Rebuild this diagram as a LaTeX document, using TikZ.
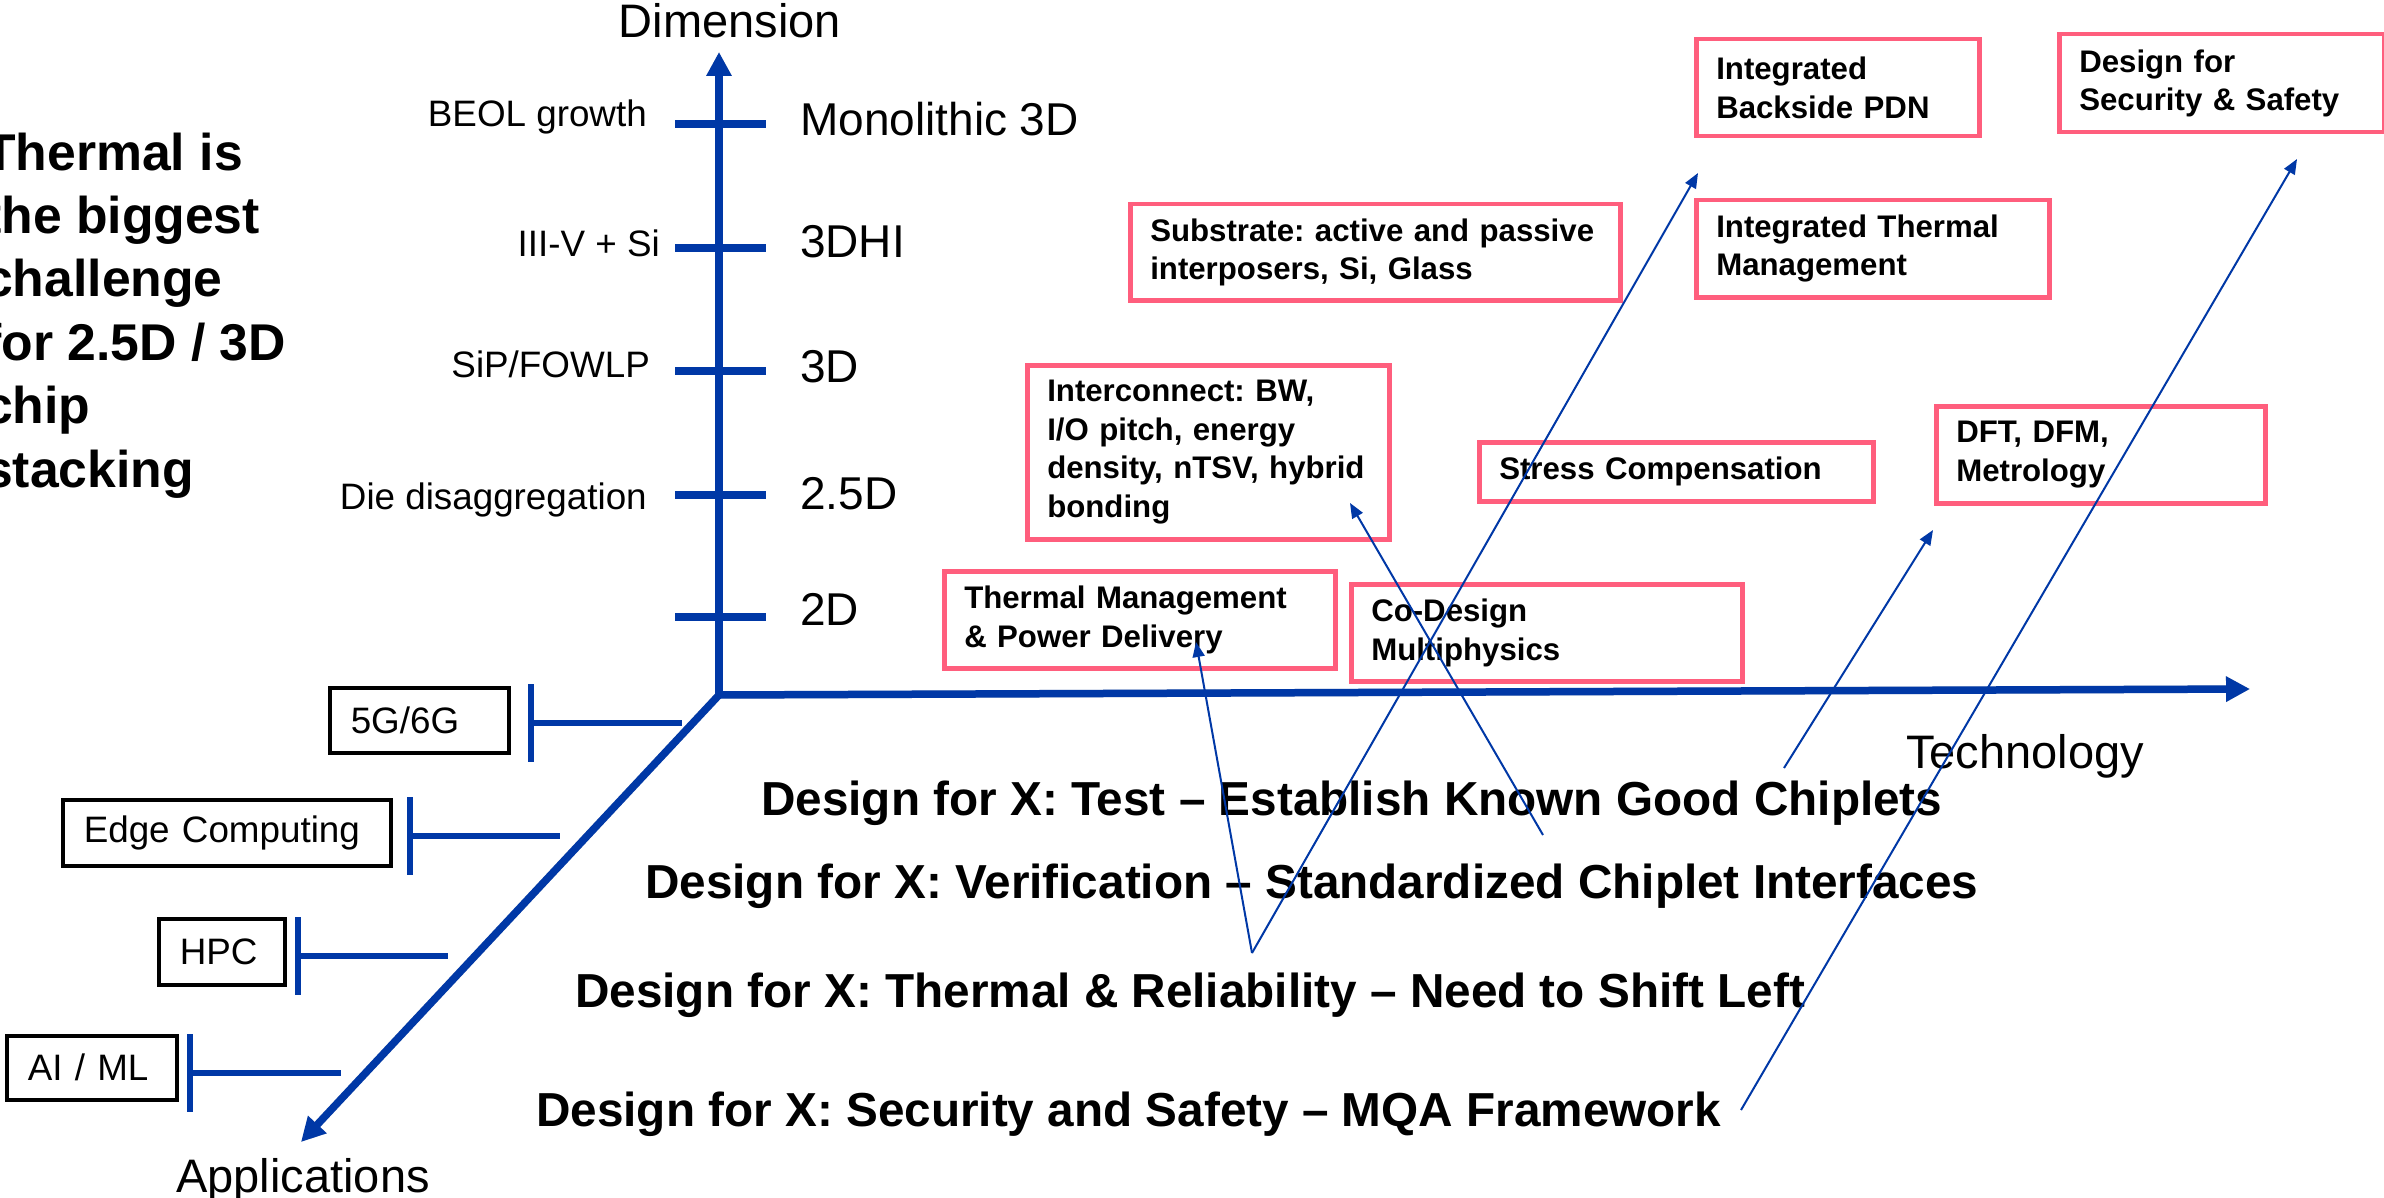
\documentclass[tikz,border=0pt]{standalone}
\usepackage{fontspec}
\setmainfont{Liberation Sans}
\usetikzlibrary{arrows.meta}
\frenchspacing

\definecolor{axisblue}{RGB}{0,56,166}
\definecolor{boxpink}{RGB}{255,94,125}

% one unit = 1pt, y grows downwards
\tikzstyle{mainaxis}=[
	draw=axisblue,
	line width=7.5pt,
	-{Triangle[length=24pt,width=24pt]}
]
\tikzstyle{tickmark}=[draw=axisblue, line width=8pt]
\tikzstyle{appline}=[draw=axisblue, line width=5.5pt]
\tikzstyle{dropshadow}=[draw=black!14, shift={(2,5)}]
\tikzstyle{link}=[
	draw=axisblue,
	line width=2pt,
	-{Triangle[length=15pt,width=12pt]}
]
\tikzstyle{idea}=[
	rectangle,
	draw=boxpink,
	line width=4.5pt,
	anchor=north west,
	align=left,
	inner xsep=20pt,
	inner ysep=0pt,
	font=\fontsize{31.2}{38.5}\selectfont\bfseries
]
\tikzstyle{app}=[
	rectangle,
	draw=black,
	line width=3.5pt,
	anchor=north west,
	align=left,
	inner xsep=21pt,
	inner ysep=0pt,
	font=\fontsize{36.8}{44}\selectfont
]
\tikzstyle{axislabel}=[font=\fontsize{47}{56}\selectfont, anchor=base, inner sep=0pt]
\tikzstyle{dimtext}=[font=\fontsize{46}{55}\selectfont, anchor=base west, inner sep=0pt]
\tikzstyle{drivertext}=[font=\fontsize{36.8}{44}\selectfont, anchor=base east, inner sep=0pt]
\tikzstyle{dfx}=[font=\fontsize{47.7}{57}\selectfont\bfseries, anchor=base west, inner sep=0pt]

\begin{document}
\begin{tikzpicture}[x=1pt, y=-1pt]
\useasboundingbox (0,0) rectangle (2384,1198);
\fill[white] (0,0) rectangle (2384,1198);

% the three axes
\coordinate (O) at (719,695);
\coordinate (dimtip) at (719,52);
\coordinate (techtip) at (2250,689);
\coordinate (apptip) at (301,1142);
\draw[mainaxis, dropshadow] (O) -- (dimtip);
\draw[mainaxis, dropshadow] (O) -- (techtip);
\draw[mainaxis, dropshadow] (O) -- (apptip);
\draw[mainaxis] (O) -- (dimtip);
\draw[mainaxis] (O) -- (techtip);
\draw[mainaxis] (O) -- (apptip);

\node[axislabel] (dim) at (730,38) {Dimension};
\node[axislabel] (tech) at (2025,768) {Technology};
\node[axislabel] (appl) at (303,1192) {Applications};

% integration levels
\foreach \y [count=\i] in {124,248,371,495,617} {
	\coordinate (lvl\i) at (719,\y);
	\draw[tickmark, dropshadow] ([xshift=-44pt]lvl\i) -- ([xshift=47pt]lvl\i);
	\draw[tickmark] ([xshift=-44pt]lvl\i) -- ([xshift=47pt]lvl\i);
}
\node[dimtext] (mono) at (800,136) {Monolithic 3D};
\node[dimtext] (hi) at (800,258) {3DHI};
\node[dimtext] (threed) at (800,382) {3D};
\node[dimtext] (twofive) at (800,509) {2.5D};
\node[dimtext] (twod) at (800,625) {2D};
\node[drivertext] (beol) at (647,127) {BEOL growth};
\node[drivertext] (iiiv) at (660,257) {III-V + Si};
\node[drivertext] (sip) at (650,377) {SiP/FOWLP};
\node[drivertext] (die) at (647,509) {Die disaggregation};

% base of this node is its last line
\node[anchor=base west, align=left, inner sep=0pt,
	font=\fontsize{51.7}{63.4}\selectfont\bfseries] (claim) at (-16,487)
	{Thermal is\\the biggest\\challenge\\for 2.5D / 3D\\chip\\stacking};

% applications
\node[app, text width=137pt, minimum height=65pt] (g56) at (328,686) {5G/6G};
\node[app, text width=286pt, minimum height=66pt] (edge) at (61,798) {Edge Computing};
\node[app, text width=84pt, minimum height=66pt] (hpc) at (157,917) {HPC};
\node[app, text width=128pt, minimum height=64pt] (aiml) at (5,1034) {AI / ML};

\foreach \name/\x/\y/\xe in {g56/531/723/682, edge/410/836/560, hpc/298/956/448, aiml/190/1073/341} {
	\coordinate (\name bar) at (\x,\y);
	\coordinate (\name end) at (\xe,\y);
	\draw[appline, dropshadow] ([yshift=39pt]\name bar) -- ([yshift=-39pt]\name bar);
	\draw[appline, dropshadow] (\name bar) -- (\name end);
	\draw[appline] ([yshift=39pt]\name bar) -- ([yshift=-39pt]\name bar);
	\draw[appline] (\name bar) -- (\name end);
}

% technology topics
\node[idea, text width=243pt, minimum height=97pt] (pdn) at (1694,37) {Integrated\\Backside PDN};
\node[idea, text width=285pt, minimum height=98pt] (secbox) at (2057,32) {Design for\\Security \& Safety};
\node[idea, text width=450pt, minimum height=96pt] (substrate) at (1128,202) {Substrate: active and passive\\interposers, Si, Glass};
\node[idea, text width=313pt, minimum height=97pt] (itm) at (1694,198) {Integrated Thermal\\Management};
\node[idea, text width=322pt, minimum height=174pt] (interconnect) at (1025,363) {Interconnect: BW,\\I/O pitch, energy\\density, nTSV, hybrid\\bonding};
\node[idea, text width=354pt, minimum height=59pt] (stress) at (1477,440) {Stress Compensation};
\node[idea, text width=289pt, minimum height=97pt] (dftbox) at (1934,404) {DFT, DFM,\\Metrology};
\node[idea, text width=351pt, minimum height=97pt] (thermalpd) at (942,569) {Thermal Management\\\& Power Delivery};
\node[idea, text width=351pt, minimum height=97pt] (codesign) at (1349,582) {Co-Design\\Multiphysics};

% design for X
\node[dfx] (dfxtest) at (761,815) {Design for X: Test -- Establish Known Good Chiplets};
\node[dfx] (dfxver) at (645,898) {Design for X: Verification -- Standardized Chiplet Interfaces};
\node[dfx] (dfxtherm) at (575,1007) {Design for X: Thermal \& Reliability -- Need to Shift Left};
\node[dfx] (dfxsec) at (536,1126) {Design for X: Security and Safety -- MQA Framework};

% pointers
\coordinate (vapex) at (1252,953);
\coordinate (tpdtip) at (1196,642);
\coordinate (pdntip) at (1698,173);
\coordinate (intertail) at (1543,835);
\coordinate (intertip) at (1350,503);
\coordinate (dfttail) at (1784,768);
\coordinate (dfttip) at (1933,530);
\coordinate (sectail) at (1741,1110);
\coordinate (sectip) at (2297,159);
\draw[link] (vapex) -- (tpdtip);
\draw[link] (vapex) -- (pdntip);
\draw[link] (intertail) -- (intertip);
\draw[link] (dfttail) -- (dfttip);
\draw[link] (sectail) -- (sectip);
\end{tikzpicture}
\end{document}
